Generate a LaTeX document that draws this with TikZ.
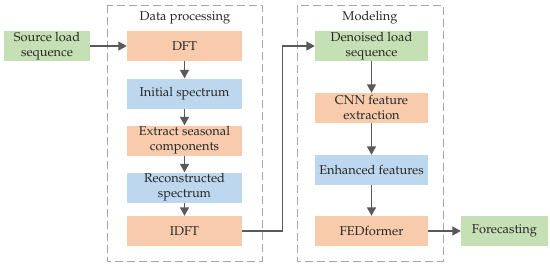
\documentclass[tikz,border=0pt]{standalone}
\usepackage[T1]{fontenc}
\usepackage{mathpazo}
\usetikzlibrary{arrows.meta}
\definecolor{boxorange}{HTML}{F8CBAD}
\definecolor{boxblue}{HTML}{BDD7EE}
\definecolor{boxgreen}{HTML}{C5E0B4}
\definecolor{arrowgray}{HTML}{595959}
\definecolor{framegray}{HTML}{A6A6A6}
\begin{document}
\begin{tikzpicture}[x=1pt,y=-1pt,
  every node/.style={font=\fontsize{12.8}{15}\selectfont, text=black!85},
  blk/.style={minimum height=30pt, inner sep=1pt, align=center, draw=none},
  orangeblk/.style={blk, fill=boxorange},
  blueblk/.style={blk, fill=boxblue},
  greenblk/.style={blk, fill=boxgreen},
  colL/.style={minimum width=115pt},
  colR/.style={minimum width=113pt},
  conn/.style={draw=arrowgray, line width=1.4pt, -{Triangle[length=8.5pt,width=9pt]}},
  frame/.style={draw=framegray, line width=1pt, dash pattern=on 8pt off 4pt},
  title/.style={inner sep=0pt}
]
\useasboundingbox (0,0) rectangle (550,269);
% frames
\draw[frame] (107,5) rectangle (262,261);
\draw[frame] (297,5) rectangle (443,261);
\node[title] (t1) at (185,18) {Data processing};
\node[title] (t2) at (370,18) {Modeling};
% left column
\node[greenblk, minimum width=86pt] (src) at (47,46) {Source load\\sequence};
\node[orangeblk, colL] (dft) at (184.5,46) {DFT};
\node[blueblk, colL] (init) at (184.5,93.5) {Initial spectrum};
\node[orangeblk, colL] (extr) at (184.5,140.5) {Extract seasonal\\components};
\node[blueblk, colL] (recon) at (184.5,187.5) {Reconstructed\\spectrum};
\node[orangeblk, colL] (idft) at (184.5,231) {IDFT};
% right column
\node[greenblk, colR] (den) at (371.5,46) {Denoised load\\sequence};
\node[orangeblk, colR] (cnn) at (371.5,108) {CNN feature\\extraction};
\node[blueblk, colR] (enh) at (371.5,170) {Enhanced features};
\node[orangeblk, colR] (fed) at (371.5,231) {FEDformer};
\node[greenblk, minimum width=87pt] (fore) at (504.5,231) {Forecasting};
% connectors
\draw[conn] (src) -- (dft);
\draw[conn] (dft) -- (init);
\draw[conn] (init) -- (extr);
\draw[conn] (extr) -- (recon);
\draw[conn] (recon) -- (idft);
\coordinate (e1) at (282.7,231);
\coordinate (e2) at (282.7,46);
\draw[conn] (idft.east) -- (e1) -- (e2) -- (den.west);
\draw[conn] (den) -- (cnn);
\draw[conn] (cnn) -- (enh);
\draw[conn] (enh) -- (fed);
\draw[conn] (fed) -- (fore);
\end{tikzpicture}
\end{document}
